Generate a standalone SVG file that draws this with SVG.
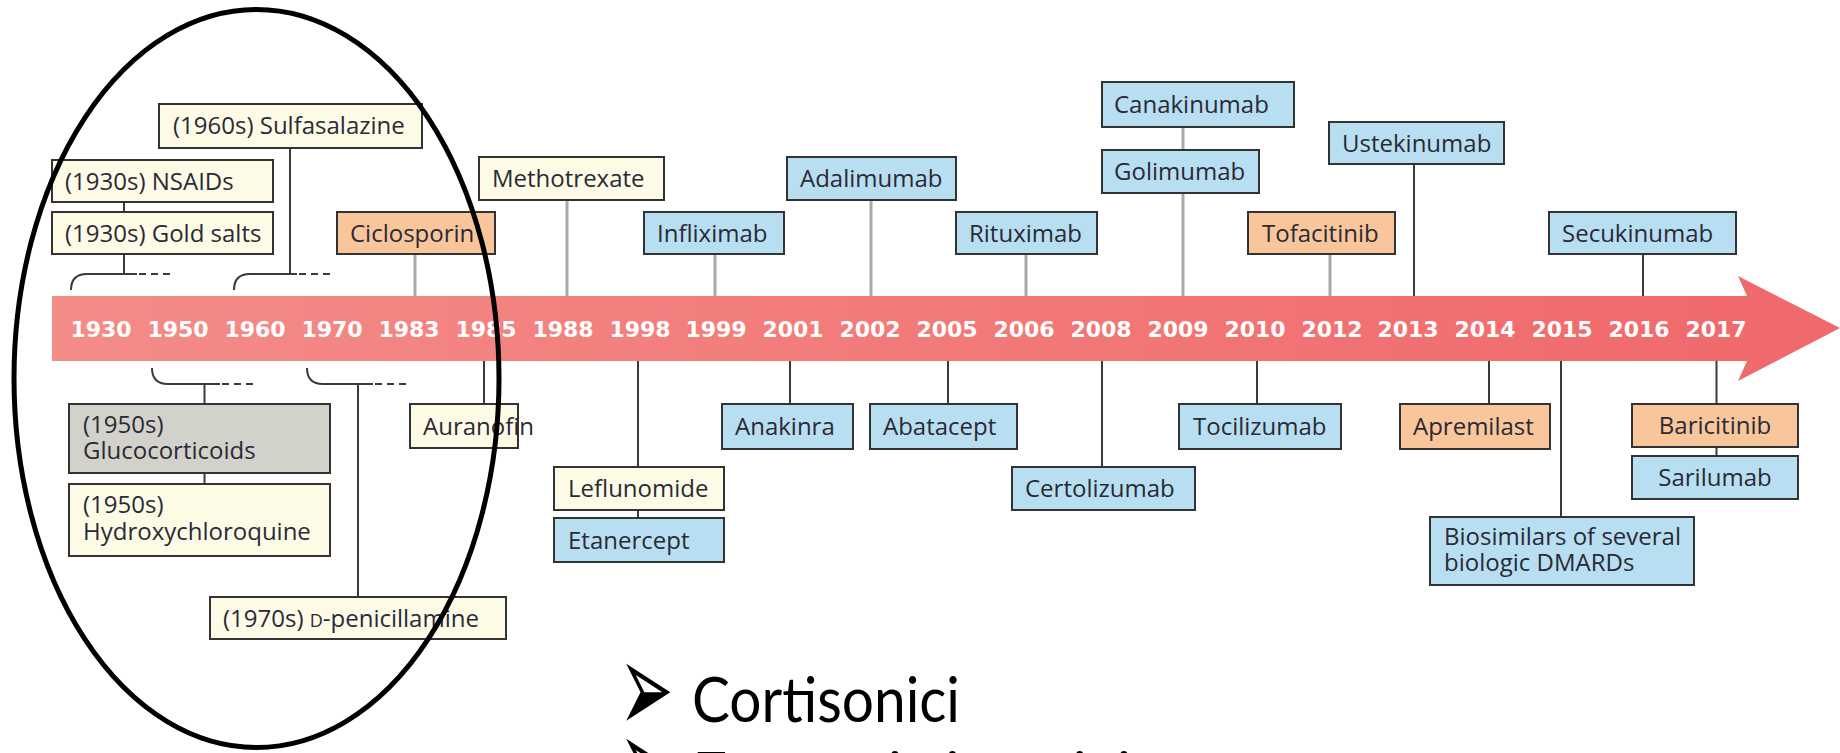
<svg xmlns="http://www.w3.org/2000/svg" width="1840" height="753" viewBox="0 0 1840 753">
<defs>
<linearGradient id="barGrad" x1="52" y1="0" x2="1840" y2="0" gradientUnits="userSpaceOnUse">
<stop offset="0" stop-color="#F48C87"/>
<stop offset="1" stop-color="#F0686B"/>
</linearGradient>
<style>
.box rect{stroke:#333;stroke-width:2}
.cream rect{fill:#FDFBE6}
.blue rect{fill:#B8DFF1}
.orange rect{fill:#F8C69A}
.grey rect{fill:#D2D2CA}
.box text{font-family:"Open Sans","DejaVu Sans",sans-serif;font-size:24px;fill:#2A2A36}
.yr{font-family:"DejaVu Sans",sans-serif;font-weight:bold;font-size:22px;fill:#FFFFFF;text-anchor:middle}
.gl{stroke:#A9A9A9;stroke-width:3;fill:none}
.dl{stroke:#3A3A3A;stroke-width:2;fill:none}
.dash{stroke:#3A3A3A;stroke-width:2;fill:none;stroke-dasharray:7 5}
.big{font-family:Lato,"Open Sans",sans-serif;font-size:62px;fill:#000}
.bullet{font-family:"DejaVu Sans",sans-serif;font-size:65px;fill:#000}
</style>
</defs>
<rect width="1840" height="753" fill="#FFFFFF"/>

<g id="timeline">
<polygon points="52,296 1747,296 1738,276 1840,328 1738,381 1747,361 52,361" fill="url(#barGrad)"/>
<text class="yr" x="101" y="337">1930</text>
<text class="yr" x="178" y="337">1950</text>
<text class="yr" x="255" y="337">1960</text>
<text class="yr" x="332" y="337">1970</text>
<text class="yr" x="409" y="337">1983</text>
<text class="yr" x="486" y="337">1985</text>
<text class="yr" x="563" y="337">1988</text>
<text class="yr" x="640" y="337">1998</text>
<text class="yr" x="716" y="337">1999</text>
<text class="yr" x="793" y="337">2001</text>
<text class="yr" x="870" y="337">2002</text>
<text class="yr" x="947" y="337">2005</text>
<text class="yr" x="1024" y="337">2006</text>
<text class="yr" x="1101" y="337">2008</text>
<text class="yr" x="1178" y="337">2009</text>
<text class="yr" x="1255" y="337">2010</text>
<text class="yr" x="1332" y="337">2012</text>
<text class="yr" x="1408" y="337">2013</text>
<text class="yr" x="1485" y="337">2014</text>
<text class="yr" x="1562" y="337">2015</text>
<text class="yr" x="1639" y="337">2016</text>
<text class="yr" x="1716" y="337">2017</text>
</g>

<g id="connectors">
<line class="gl" x1="415" y1="254" x2="415" y2="296"/>
<line class="gl" x1="567" y1="200" x2="567" y2="296"/>
<line class="gl" x1="715" y1="254" x2="715" y2="296"/>
<line class="gl" x1="871" y1="200" x2="871" y2="296"/>
<line class="gl" x1="1026" y1="254" x2="1026" y2="296"/>
<line class="gl" x1="1183" y1="127" x2="1183" y2="150"/>
<line class="gl" x1="1183" y1="193" x2="1183" y2="296"/>
<line class="gl" x1="1330" y1="254" x2="1330" y2="296"/>
<line class="dl" x1="124" y1="202" x2="124" y2="212"/>
<line class="dl" x1="124" y1="254" x2="124" y2="274"/>
<line class="dl" x1="290" y1="148" x2="290" y2="274"/>
<line class="dl" x1="1414" y1="164" x2="1414" y2="296"/>
<line class="dl" x1="1643" y1="254" x2="1643" y2="296"/>
<path class="dl" d="M71,290 Q71,274 87,274 L137,274"/>
<path class="dash" d="M139,274 L171,274"/>
<path class="dl" d="M234,290 Q234,274 250,274 L297,274"/>
<path class="dash" d="M299,274 L334,274"/>
<path class="dl" d="M152,368 Q152,384 168,384 L220,384"/>
<path class="dash" d="M222,384 L253,384"/>
<path class="dl" d="M307,368 Q307,384 323,384 L373,384"/>
<path class="dash" d="M375,384 L407,384"/>
<line class="dl" x1="204.5" y1="384" x2="204.5" y2="404"/>
<line class="dl" x1="204.5" y1="473" x2="204.5" y2="484"/>
<line class="dl" x1="358" y1="384" x2="358" y2="597"/>
<line class="dl" x1="484" y1="361" x2="484" y2="404"/>
<line class="dl" x1="638" y1="361" x2="638" y2="467"/>
<line class="dl" x1="638" y1="510" x2="638" y2="518"/>
<line class="dl" x1="790" y1="361" x2="790" y2="404"/>
<line class="dl" x1="948" y1="361" x2="948" y2="404"/>
<line class="dl" x1="1102" y1="361" x2="1102" y2="467"/>
<line class="dl" x1="1257" y1="361" x2="1257" y2="404"/>
<line class="dl" x1="1489" y1="361" x2="1489" y2="404"/>
<line class="dl" x1="1561" y1="361" x2="1561" y2="517"/>
<line class="dl" x1="1716.5" y1="361" x2="1716.5" y2="404"/>
<line class="dl" x1="1716.5" y1="447" x2="1716.5" y2="456"/>
</g>

<g id="sulfasalazine" class="box cream"><rect x="159" y="104" width="263" height="44"/><text x="173" y="134">(1960s) Sulfasalazine</text></g>
<g id="nsaids" class="box cream"><rect x="52" y="160" width="221" height="42"/><text x="65" y="189.5">(1930s) NSAIDs</text></g>
<g id="gold-salts" class="box cream"><rect x="52" y="212" width="221" height="42"/><text x="65" y="241.5">(1930s) Gold salts</text></g>
<g id="ciclosporin" class="box orange"><rect x="337" y="212" width="158" height="42"/><text x="350" y="241.5">Ciclosporin</text></g>
<g id="methotrexate" class="box cream"><rect x="479" y="157" width="185" height="43"/><text x="492" y="187">Methotrexate</text></g>
<g id="infliximab" class="box blue"><rect x="644" y="212" width="140" height="42"/><text x="657" y="241.5">Infliximab</text></g>
<g id="adalimumab" class="box blue"><rect x="787" y="157" width="169" height="43"/><text x="800" y="187">Adalimumab</text></g>
<g id="rituximab" class="box blue"><rect x="956" y="212" width="141" height="42"/><text x="969" y="241.5">Rituximab</text></g>
<g id="canakinumab" class="box blue"><rect x="1102" y="82" width="192" height="45"/><text x="1114" y="113">Canakinumab</text></g>
<g id="golimumab" class="box blue"><rect x="1102" y="150" width="157" height="43"/><text x="1114" y="180">Golimumab</text></g>
<g id="tofacitinib" class="box orange"><rect x="1248" y="212" width="147" height="42"/><text x="1262" y="241.5">Tofacitinib</text></g>
<g id="ustekinumab" class="box blue"><rect x="1329" y="122" width="175" height="42"/><text x="1342" y="151.5">Ustekinumab</text></g>
<g id="secukinumab" class="box blue"><rect x="1549" y="212" width="187" height="42"/><text x="1562" y="241.5">Secukinumab</text></g>

<g id="glucocorticoids" class="box grey"><rect x="69" y="404" width="261" height="69"/><text x="83" y="433">(1950s)<tspan x="83" dy="25.5">Glucocorticoids</tspan></text></g>
<g id="hydroxychloroquine" class="box cream"><rect x="69" y="484" width="261" height="72"/><text x="83" y="513">(1950s)<tspan x="83" dy="26.5">Hydroxychloroquine</tspan></text></g>
<g id="d-penicillamine" class="box cream"><rect x="210" y="597" width="296" height="42"/><text x="223" y="626.5">(1970s) <tspan font-size="18">D</tspan>-penicillamine</text></g>
<g id="auranofin" class="box cream"><rect x="410" y="404" width="108" height="44"/><text x="423" y="434.5">Auranofin</text></g>
<g id="leflunomide" class="box cream"><rect x="554" y="467" width="170" height="43"/><text x="568" y="497">Leflunomide</text></g>
<g id="etanercept" class="box blue"><rect x="554" y="518" width="170" height="44"/><text x="568" y="548.5">Etanercept</text></g>
<g id="anakinra" class="box blue"><rect x="722" y="404" width="131" height="45"/><text x="735" y="435">Anakinra</text></g>
<g id="abatacept" class="box blue"><rect x="870" y="404" width="147" height="45"/><text x="883" y="435">Abatacept</text></g>
<g id="certolizumab" class="box blue"><rect x="1012" y="467" width="183" height="43"/><text x="1025" y="497">Certolizumab</text></g>
<g id="tocilizumab" class="box blue"><rect x="1179" y="404" width="162" height="45"/><text x="1193" y="435">Tocilizumab</text></g>
<g id="apremilast" class="box orange"><rect x="1400" y="404" width="150" height="45"/><text x="1413" y="435">Apremilast</text></g>
<g id="biosimilars" class="box blue"><rect x="1430" y="517" width="264" height="68"/><text x="1444" y="545">Biosimilars of several<tspan x="1444" dy="26">biologic DMARDs</tspan></text></g>
<g id="baricitinib" class="box orange"><rect x="1632" y="404" width="166" height="43"/><text x="1715" y="434" text-anchor="middle">Baricitinib</text></g>
<g id="sarilumab" class="box blue"><rect x="1632" y="456" width="166" height="43"/><text x="1715" y="486" text-anchor="middle">Sarilumab</text></g>

<ellipse id="highlight" cx="256.5" cy="378.5" rx="242.5" ry="369" fill="none" stroke="#000" stroke-width="5"/>

<g id="bullets">
<text class="bullet" transform="translate(619,733) scale(1,2)">➢</text>
<text class="big" x="692" y="722" textLength="268" lengthAdjust="spacingAndGlyphs">Cortisonici</text>
<text class="bullet" transform="translate(619,808) scale(1,2)">➢</text>
<text class="big" x="692" y="797">Farmaci sintetici</text>
</g>
</svg>
